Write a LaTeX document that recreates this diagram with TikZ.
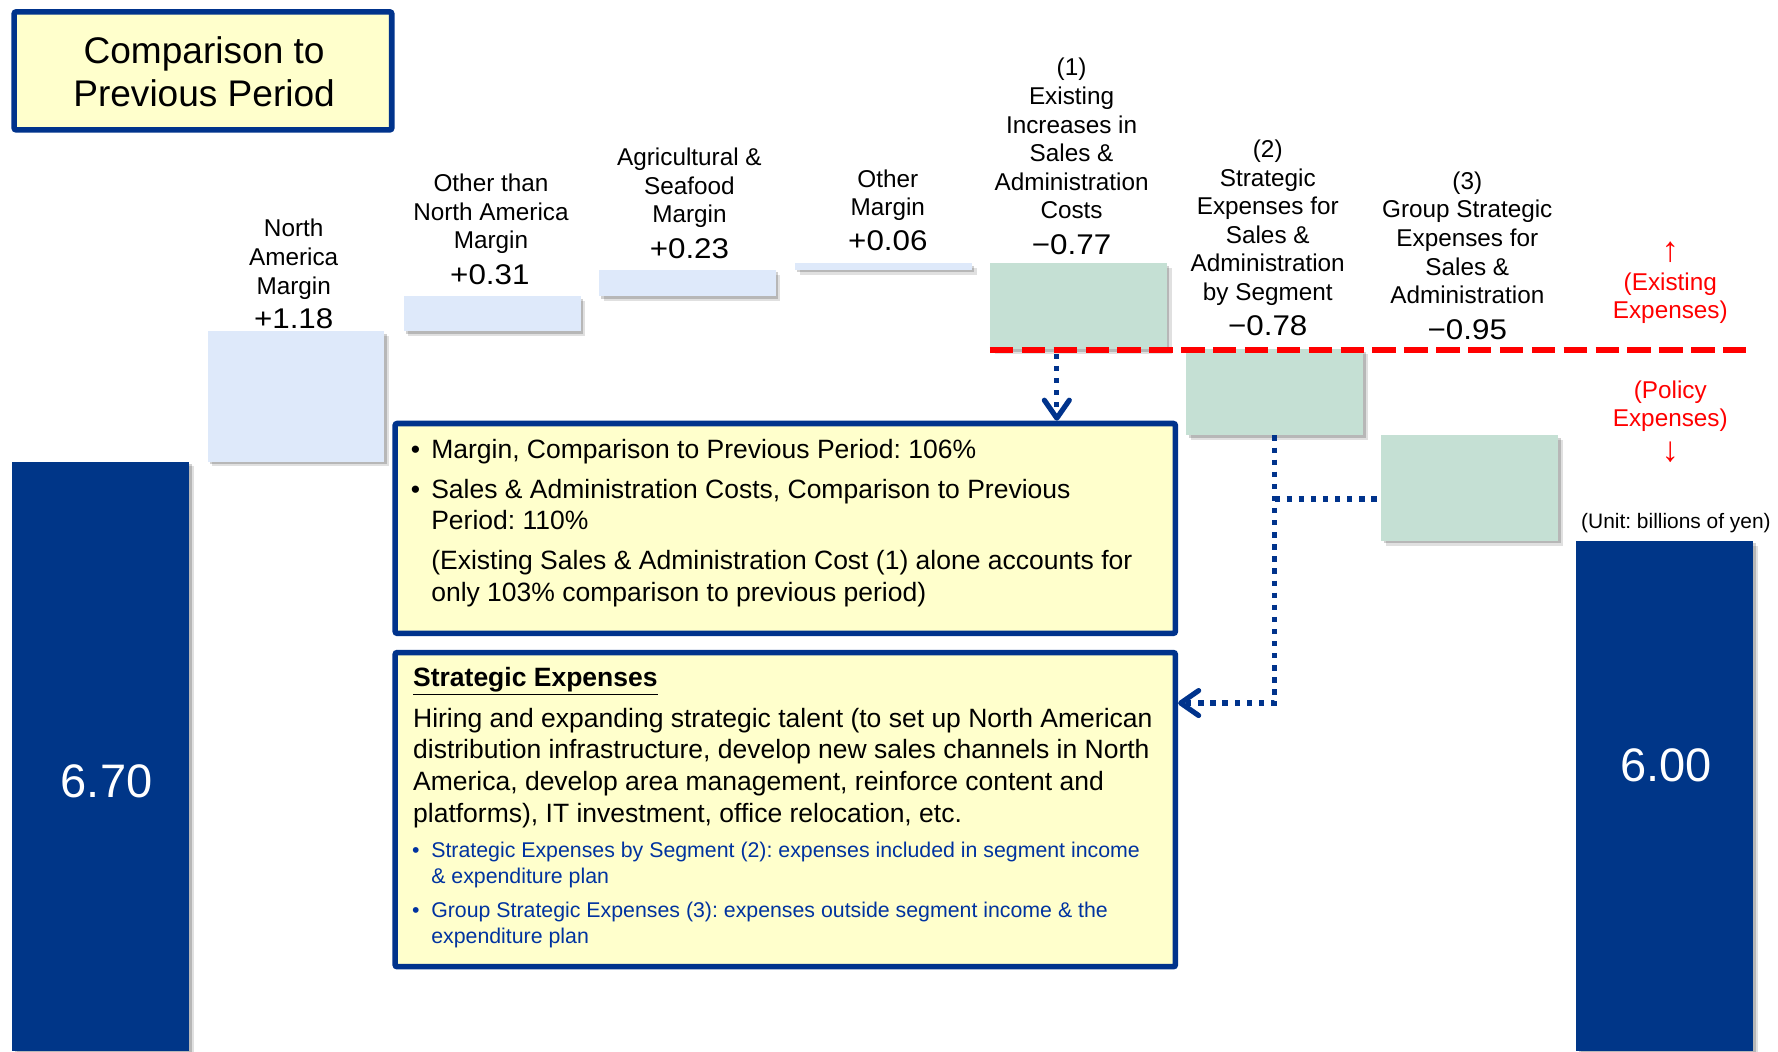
\documentclass[tikz,border=0pt]{standalone}
\usepackage{fontspec}
\setmainfont{Liberation Sans}
\newfontfamily\valfont[FakeStretch=1.1]{Liberation Sans}
\frenchspacing
\usetikzlibrary{arrows.meta,shadows}
\definecolor{darkbar}{RGB}{0,54,136}
\definecolor{boxblue}{RGB}{0,51,140}
\definecolor{lightbar}{RGB}{222,233,250}
\definecolor{greenbar}{RGB}{197,224,212}
\definecolor{paleyellow}{RGB}{255,255,204}
\definecolor{textblue}{RGB}{0,51,160}
\definecolor{dashred}{RGB}{255,0,0}
\newdimen\pxu \pxu=0.02cm
\newcommand\mkbar[6]{\node[#6, minimum width={(#4-#2)*\pxu}, minimum height={(#5-#3)*\pxu}] (#1) at ({(#2+#4)/2},{(#3+#5)/2}) {};}
\newcommand\bigarrow[2]{\smash{\raisebox{#1}{\fontsize{17.5}{14}\selectfont #2}}}
\tikzset{
  barshadow/.style={drop shadow={shadow xshift=2.4pt, shadow yshift=-2.4pt, fill=black, opacity=0.12},
                    drop shadow={shadow xshift=1.3pt, shadow yshift=-1.3pt, fill=black, opacity=0.18}},
  barbase/.style={inner sep=0, outer sep=0, draw=none, barshadow},
  lightbox/.style={barbase, fill=lightbar},
  greenbox/.style={barbase, fill=greenbar},
  darkbox/.style={barbase, fill=darkbar},
  tbox/.style={draw=boxblue, line width=2.8pt, fill=paleyellow, rounded corners=1pt, inner sep=0},
  lbl/.style={align=center, inner sep=0, anchor=north, font=\fontsize{12.2}{14.35}\selectfont},
  redlbl/.style={lbl, text=dashred},
  val/.style={inner sep=0, anchor=base, font=\valfont\fontsize{14.3}{16}\selectfont},
  btxt/.style={align=left, inner sep=0, anchor=north west, font=\fontsize{13.3}{15.87}\selectfont},
  bblue/.style={align=left, inner sep=0, anchor=north west, text=textblue, font=\fontsize{10.7}{13.04}\selectfont},
  bigval/.style={text=white, font=\fontsize{23.6}{28}\selectfont},
  reddash/.style={draw=dashred, line width=3.1pt, dash pattern=on 11.7pt off 4.3pt},
  conn/.style={draw=boxblue, line width=2.67pt, dash pattern=on 2.67pt off 3.4pt},
  tipv/.style={-{Straight Barb[length=9pt,width=12.5pt,line width=2.6pt,round]}}
}
\begin{document}
\begin{tikzpicture}[x=0.02cm,y=-0.02cm]
\useasboundingbox (0,0) rectangle (1568,927);
\fill[white] (0,0) rectangle (1568,927);

% title
\mkbar{titlebox}{12.5}{10.5}{345.5}{114.5}{tbox}
\node[align=center, inner sep=0, anchor=north, font=\fontsize{18.6}{21.5}\selectfont] (titletxt) at (180,29.2) {\strut Comparison to\\Previous Period};

% bars
\mkbar{startbar}{11}{407}{167}{927}{darkbox}
\mkbar{na}{183}{292}{339}{407}{lightbox}
\mkbar{ona}{356}{261}{512}{292}{lightbox}
\mkbar{agri}{528}{238}{684}{261}{lightbox}
\mkbar{oth}{701}{232}{857}{238}{lightbox}
\mkbar{exist}{873}{232}{1029}{308}{greenbox}
\mkbar{seg}{1046}{308}{1202}{384}{greenbox}
\mkbar{group}{1218}{384}{1374}{477}{greenbox}
\mkbar{endbar}{1390}{477}{1546}{927}{darkbox}

\node[bigval] (v670) at (94,689) {6.70};
\node[bigval] (v600) at (1469,675) {6.00};

% labels
\node[lbl] (lna) at (259,191) {\strut North\\America\\Margin};
\node[lbl] (lona) at (433,151) {\strut Other than\\North America\\Margin};
\node[lbl] (lagri) at (608,128) {\strut Agricultural \&\\Seafood\\Margin};
\node[lbl] (loth) at (783,147) {\strut Other\\Margin};
\node[lbl] (lexist) at (945,49) {\strut (1)\\Existing\\Increases in\\Sales \&\\Administration\\Costs};
\node[lbl] (lseg) at (1118,121) {\strut (2)\\Strategic\\Expenses for\\Sales \&\\Administration\\by Segment};
\node[lbl] (lgroup) at (1294,149) {\strut (3)\\Group Strategic\\Expenses for\\Sales \&\\Administration};
\node[redlbl] (lexp) at (1473,212.7) {\strut\bigarrow{0pt}{↑}\\(Existing\\Expenses)};
\node[redlbl] (lpol) at (1473,333) {\strut (Policy\\Expenses)\\\bigarrow{-3pt}{↓}};
\node[inner sep=0, anchor=base, font=\fontsize{10.5}{12}\selectfont] (unit) at (1478,466) {(Unit: billions of yen)};

% values
\node[val] (vna) at (259,290) {+1.18};
\node[val] (vona) at (432,251) {+0.31};
\node[val] (vagri) at (608,228) {+0.23};
\node[val] (voth) at (783,221) {+0.06};
\node[val] (vexist) at (945,224) {−0.77};
\node[val] (vseg) at (1118,296) {−0.78};
\node[val] (vgroup) at (1294,299) {−0.95};

% red dashed divider
\coordinate (dl) at (873,308.5);
\coordinate (dr) at (1542,308.5);
\draw[reddash] (dl) -- (dr);

% text boxes
\mkbar{box1}{348.5}{373.5}{1036.5}{558.5}{tbox}
\mkbar{box2}{348.5}{575.5}{1036.5}{852.5}{tbox}

\node[btxt] (b1abul) at (362,384.4) {\strut •};
\node[btxt] (b1a) at (380,384.4) {\strut Margin, Comparison to Previous Period: 106\%};
\node[btxt] (b1bbul) at (362,419.4) {\strut •};
\node[btxt] (b1b) at (380,419.4) {\strut Sales \& Administration Costs, Comparison to Previous\\Period: 110\%};
\node[btxt] (b1c) at (380,482.4) {\strut (Existing Sales \& Administration Cost (1) alone accounts for\\only 103\% comparison to previous period)};

\node[btxt] (b2t) at (364,585.4) {\strut\textbf{\underline{Strategic Expenses}}};
\node[btxt] (b2b) at (364,621.4) {\strut Hiring and expanding strategic talent (to set up North American\\distribution infrastructure, develop new sales channels in North\\America, develop area management, reinforce content and\\platforms), IT investment, office relocation, etc.};
\node[bblue] (b2cbul) at (363,739.9) {\strut •};
\node[bblue] (b2c) at (380,739.9) {\strut Strategic Expenses by Segment (2): expenses included in segment income\\\& expenditure plan};
\node[bblue] (b2dbul) at (363,792.9) {\strut •};
\node[bblue] (b2d) at (380,792.9) {\strut Group Strategic Expenses (3): expenses outside segment income \& the\\expenditure plan};

% connectors
\coordinate (c1) at (932,312);
\draw[conn, tipv] (c1) -- (c1 |- box1.north);
\coordinate (c2) at (1124,620);
\draw[conn, tipv] (seg.south) -- (c2) -- (c2 -| box2.east);
\coordinate (c3) at (1124,440);
\draw[conn] (c3) -- (c3 -| group.west);
\end{tikzpicture}
\end{document}
